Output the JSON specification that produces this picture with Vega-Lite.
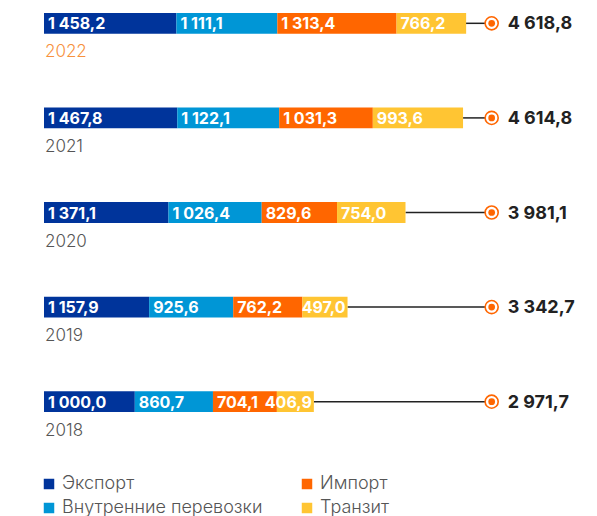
{
  "$schema": "https://vega.github.io/schema/vega-lite/v6.json",
  "width": 553,
  "height": 425,
  "autosize": {"type": "none"},
  "padding": {"left": 44, "top": 0, "right": 0, "bottom": 91},
  "background": "white",
  "config": {
    "view": {"stroke": null},
    "font": "Inter",
    "locale": {"number": {"decimal": ",", "thousands": "\u00a0", "grouping": [3], "currency": ["", ""]}}
  },
  "datasets": {
    "segments": [
      {"year": "2022", "category": "Экспорт", "order": 1, "value": 1458.2},
      {"year": "2022", "category": "Внутренние перевозки", "order": 2, "value": 1111.1},
      {"year": "2022", "category": "Импорт", "order": 3, "value": 1313.4},
      {"year": "2022", "category": "Транзит", "order": 4, "value": 766.2},
      {"year": "2021", "category": "Экспорт", "order": 1, "value": 1467.8},
      {"year": "2021", "category": "Внутренние перевозки", "order": 2, "value": 1122.1},
      {"year": "2021", "category": "Импорт", "order": 3, "value": 1031.3},
      {"year": "2021", "category": "Транзит", "order": 4, "value": 993.6},
      {"year": "2020", "category": "Экспорт", "order": 1, "value": 1371.1},
      {"year": "2020", "category": "Внутренние перевозки", "order": 2, "value": 1026.4},
      {"year": "2020", "category": "Импорт", "order": 3, "value": 829.6},
      {"year": "2020", "category": "Транзит", "order": 4, "value": 754.0},
      {"year": "2019", "category": "Экспорт", "order": 1, "value": 1157.9},
      {"year": "2019", "category": "Внутренние перевозки", "order": 2, "value": 925.6},
      {"year": "2019", "category": "Импорт", "order": 3, "value": 762.2},
      {"year": "2019", "category": "Транзит", "order": 4, "value": 497.0},
      {"year": "2018", "category": "Экспорт", "order": 1, "value": 1000.0},
      {"year": "2018", "category": "Внутренние перевозки", "order": 2, "value": 860.7},
      {"year": "2018", "category": "Импорт", "order": 3, "value": 704.1},
      {"year": "2018", "category": "Транзит", "order": 4, "value": 406.9}
    ],
    "totals": [
      {"year": "2022", "total": 4618.8},
      {"year": "2021", "total": 4614.8},
      {"year": "2020", "total": 3981.1},
      {"year": "2019", "total": 3342.7},
      {"year": "2018", "total": 2971.7}
    ]
  },
  "encoding": {
    "y": {
      "field": "year",
      "type": "nominal",
      "sort": ["2022", "2021", "2020", "2019", "2018"],
      "scale": {"paddingInner": 0.78, "paddingOuter": 0.1365},
      "axis": null
    }
  },
  "layer": [
    {
      "data": {"name": "totals"},
      "mark": {"type": "rule", "color": "#222222", "strokeWidth": 1.5},
      "encoding": {
        "x": {"field": "total", "type": "quantitative", "scale": {"domain": [0, 6090], "nice": false, "zero": true}, "axis": null},
        "x2": {"datum": 4930},
        "y": {"field": "year", "type": "nominal", "sort": ["2022", "2021", "2020", "2019", "2018"], "bandPosition": 0.5}
      }
    },
    {
      "data": {"name": "segments"},
      "transform": [
        {"stack": "value", "groupby": ["year"], "sort": [{"field": "order", "order": "ascending"}], "as": ["start", "end"]}
      ],
      "layer": [
        {
          "mark": {"type": "bar"},
          "encoding": {
            "x": {"field": "start", "type": "quantitative", "scale": {"domain": [0, 6090], "nice": false, "zero": true}, "axis": null},
            "x2": {"field": "end"},
            "color": {
              "field": "category",
              "type": "nominal",
              "scale": {
                "domain": ["Экспорт", "Импорт", "Внутренние перевозки", "Транзит"],
                "range": ["#00349B", "#FF6600", "#0096D6", "#FFC533"]
              },
              "legend": {
                "title": null,
                "orient": "none",
                "legendX": -4,
                "legendY": 475,
                "direction": "horizontal",
                "columns": 2,
                "columnPadding": 35,
                "rowPadding": 6,
                "symbolType": "square",
                "symbolSize": 110,
                "symbolStrokeWidth": 0,
                "labelFontSize": 18,
                "labelFont": "Inter",
                "labelFontWeight": 300,
                "labelColor": "#555555",
                "labelOffset": 4,
                "labelLimit": 400
              }
            }
          }
        },
        {
          "transform": [{"filter": "datum.value >= 520"}],
          "mark": {"type": "text", "align": "left", "baseline": "middle", "dx": 4, "dy": 1, "fontSize": 16, "fontWeight": 700, "color": "white"},
          "encoding": {
            "x": {"field": "start", "type": "quantitative"},
            "text": {"field": "value", "type": "quantitative", "format": ",.1f"}
          }
        },
        {
          "transform": [{"filter": "datum.value < 520"}],
          "mark": {"type": "text", "align": "right", "baseline": "middle", "dx": -2, "dy": 1, "fontSize": 16, "fontWeight": 700, "color": "white"},
          "encoding": {
            "x": {"field": "end", "type": "quantitative"},
            "text": {"field": "value", "type": "quantitative", "format": ",.1f"}
          }
        }
      ]
    },
    {
      "data": {"name": "totals"},
      "layer": [
        {
          "mark": {"type": "point", "shape": "circle", "filled": false, "fill": "white", "stroke": "#FF6600", "strokeWidth": 1.6, "size": 170, "opacity": 1},
          "encoding": {"x": {"datum": 4930, "type": "quantitative"}}
        },
        {
          "mark": {"type": "point", "shape": "circle", "filled": true, "color": "#FF6600", "size": 45, "opacity": 1},
          "encoding": {"x": {"datum": 4930, "type": "quantitative"}}
        },
        {
          "mark": {"type": "text", "align": "left", "baseline": "middle", "dx": 16, "dy": 1, "fontSize": 18, "fontWeight": 700, "color": "#222222"},
          "encoding": {
            "x": {"datum": 4930, "type": "quantitative"},
            "text": {"field": "total", "type": "quantitative", "format": ",.1f"}
          }
        },
        {
          "mark": {"type": "text", "align": "left", "baseline": "middle", "dx": 1, "dy": 29, "fontSize": 17, "fontWeight": 300},
          "encoding": {
            "x": {"datum": 0, "type": "quantitative"},
            "text": {"field": "year", "type": "nominal"},
            "color": {"condition": {"test": "datum.year === '2022'", "value": "#F7913D"}, "value": "#555555"}
          }
        }
      ]
    }
  ]
}
